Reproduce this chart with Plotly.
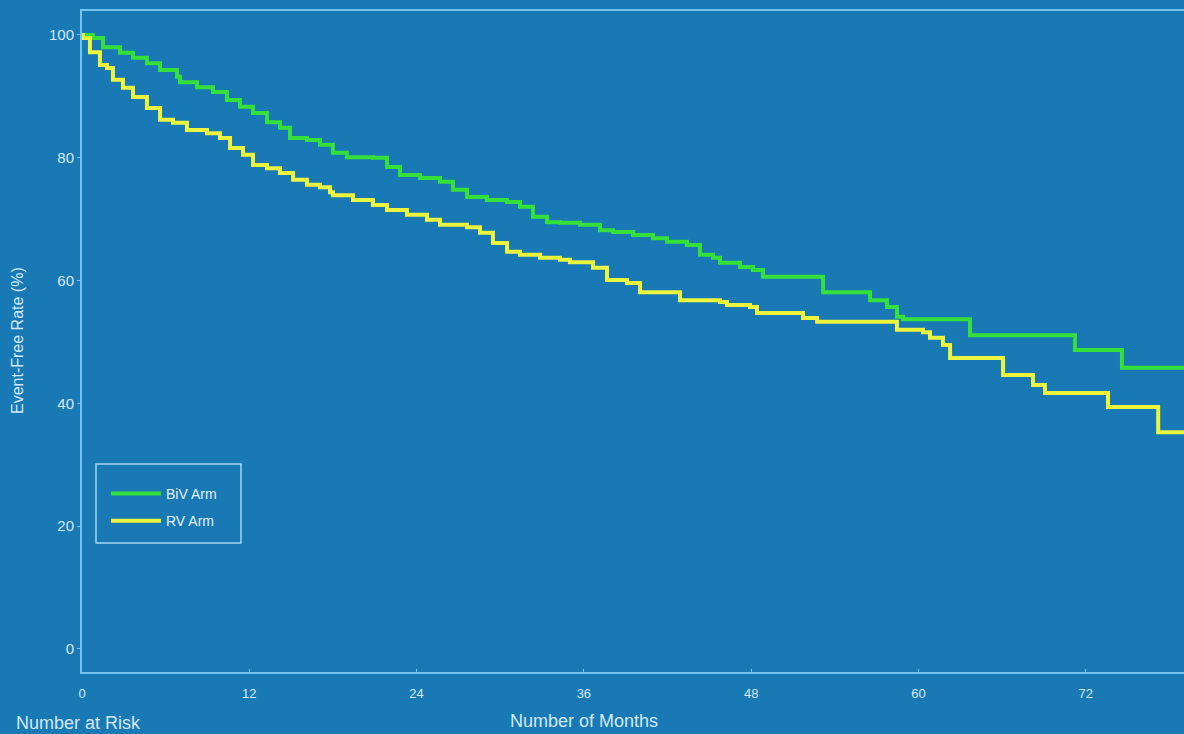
import plotly.graph_objects as go

# ---- Data (months, event-free %) ----
biv_months = [0, 0.79, 1.51, 2.73, 3.66, 4.66, 5.6, 6.81, 7.03, 8.25, 9.4, 10.4, 11.33,
              12.27, 13.27, 14.2, 14.92, 16.14, 17.07, 18.0, 19.0, 20.87, 21.88, 22.81,
              24.25, 25.68, 26.61, 27.62, 29.05, 30.49, 31.42, 32.35, 33.36, 34.29, 35.72,
              37.16, 38.09, 39.53, 40.96, 41.97, 43.4, 44.33, 45.27, 45.77, 47.2, 48.13,
              48.85, 53.16, 56.53, 57.75, 58.46, 58.9, 63.7, 71.23, 74.6, 80.0]
biv_rate = [100, 99.5, 98.0, 97.1, 96.3, 95.4, 94.3, 93.2, 92.3, 91.5, 90.7, 89.4, 88.3,
            87.3, 85.8, 84.9, 83.2, 82.9, 82.1, 80.8, 80.1, 80.0, 78.5, 77.2,
            76.7, 76.1, 74.8, 73.6, 73.1, 72.8, 72.0, 70.4, 69.5, 69.4, 69.1,
            68.2, 67.9, 67.4, 66.9, 66.3, 65.8, 64.2, 63.7, 62.9, 62.2, 61.7,
            60.6, 58.1, 56.8, 55.7, 54.1, 53.7, 51.1, 48.7, 45.8, 45.8]

rv_months = [0, 0.07, 0.57, 1.29, 1.79, 2.22, 2.94, 3.66, 4.66, 5.6, 6.53, 7.53, 8.97,
             9.9, 10.62, 11.55, 12.27, 13.27, 14.2, 15.14, 16.14, 17.07, 17.79, 18.0,
             19.44, 20.87, 21.88, 23.31, 24.75, 25.68, 27.62, 28.55, 29.48, 30.49, 31.42,
             32.86, 34.29, 35.0, 36.66, 37.66, 39.1, 40.03, 42.9, 45.77, 46.27, 47.92,
             48.42, 51.72, 52.73, 58.46, 60.33, 60.83, 61.76, 62.27, 66.07, 68.22, 69.08,
             73.6, 77.2, 80.0]
rv_rate = [100, 99.5, 97.2, 95.1, 94.6, 92.7, 91.4, 89.9, 88.1, 86.2, 85.7, 84.5, 84.0,
           83.2, 81.6, 80.5, 78.8, 78.3, 77.5, 76.4, 75.6, 75.2, 74.4, 73.9,
           73.1, 72.3, 71.5, 70.7, 69.9, 69.1, 68.7, 67.8, 66.1, 64.7, 64.2,
           63.7, 63.4, 63.0, 62.1, 60.1, 59.6, 58.1, 56.8, 56.5, 56.0, 55.7,
           54.7, 53.9, 53.3, 52.0, 51.6, 50.7, 49.5, 47.4, 44.6, 43.0, 41.7,
           39.4, 35.3, 35.3]

x_ticks = [0, 12, 24, 36, 48, 60, 72]
y_ticks = [0, 20, 40, 60, 80, 100]

BG = "#1879B5"
AXIS = "#74C3F0"
TXT = "#D2E8F6"
FONT = "Liberation Sans"

W, H = 1184, 734
L, R, T, B = 82, 0, 11, 62
PW, PH = W - L - R, H - T - B


def px(xp):
    return (xp - L) / PW


def py(yp):
    return (H - B - yp) / PH


fig = go.Figure()
fig.add_trace(go.Scatter(x=biv_months, y=biv_rate, mode="lines", name="BiV Arm",
                         line=dict(color="#35E03A", width=4, shape="hv"),
                         legendgroup="a"))
fig.add_trace(go.Scatter(x=rv_months, y=rv_rate, mode="lines", name="RV Arm",
                         line=dict(color="#ECF53E", width=4, shape="hv"),
                         legendgroup="b"))

fig.update_layout(
    width=W, height=H,
    margin=dict(l=L, r=R, t=T, b=B),
    paper_bgcolor=BG, plot_bgcolor=BG,
    font=dict(family=FONT, color=TXT),
    showlegend=True,
    legend=dict(x=px(106), y=py(478), xanchor="left", yanchor="top",
                bgcolor="rgba(0,0,0,0)", borderwidth=0,
                font=dict(size=14, color="#E2F0F9"),
                tracegroupgap=6, itemwidth=50),
    xaxis=dict(range=[0, 79.05], tickvals=x_ticks, showgrid=False, zeroline=False,
               showline=True, linecolor=AXIS, linewidth=2, mirror=True,
               ticks="inside", ticklen=3, tickcolor=AXIS,
               tickfont=dict(size=13, color=TXT), ticklabelstandoff=8),
    yaxis=dict(range=[-3.75, 103.9], tickvals=y_ticks, showgrid=False, zeroline=False,
               showline=True, linecolor=AXIS, linewidth=2, mirror=False,
               ticks="outside", ticklen=3, tickcolor=AXIS,
               tickfont=dict(size=15, color=TXT)),
    shapes=[dict(type="rect", xref="paper", yref="paper",
                 x0=px(96), x1=px(241), y0=py(543), y1=py(464),
                 line=dict(color="#A6D5F2", width=1.5))],
    annotations=[
        dict(text="Event-Free Rate (%)", xref="paper", yref="paper",
             x=px(17), y=py(341), xanchor="center", yanchor="middle",
             textangle=-90, showarrow=False, font=dict(size=16, color=TXT)),
        dict(text="Number of Months", xref="paper", yref="paper",
             x=px(584), y=py(721), xanchor="center", yanchor="middle",
             showarrow=False, font=dict(size=18, color=TXT)),
        dict(text="Number at Risk", xref="paper", yref="paper",
             x=px(14), y=py(723), xanchor="left", yanchor="middle",
             showarrow=False, font=dict(size=18, color=TXT)),
    ],
)

fig.write_html("out.html", config={"displayModeBar": False},
               post_script="document.body.style.margin='0px';document.body.style.overflow='hidden';")
